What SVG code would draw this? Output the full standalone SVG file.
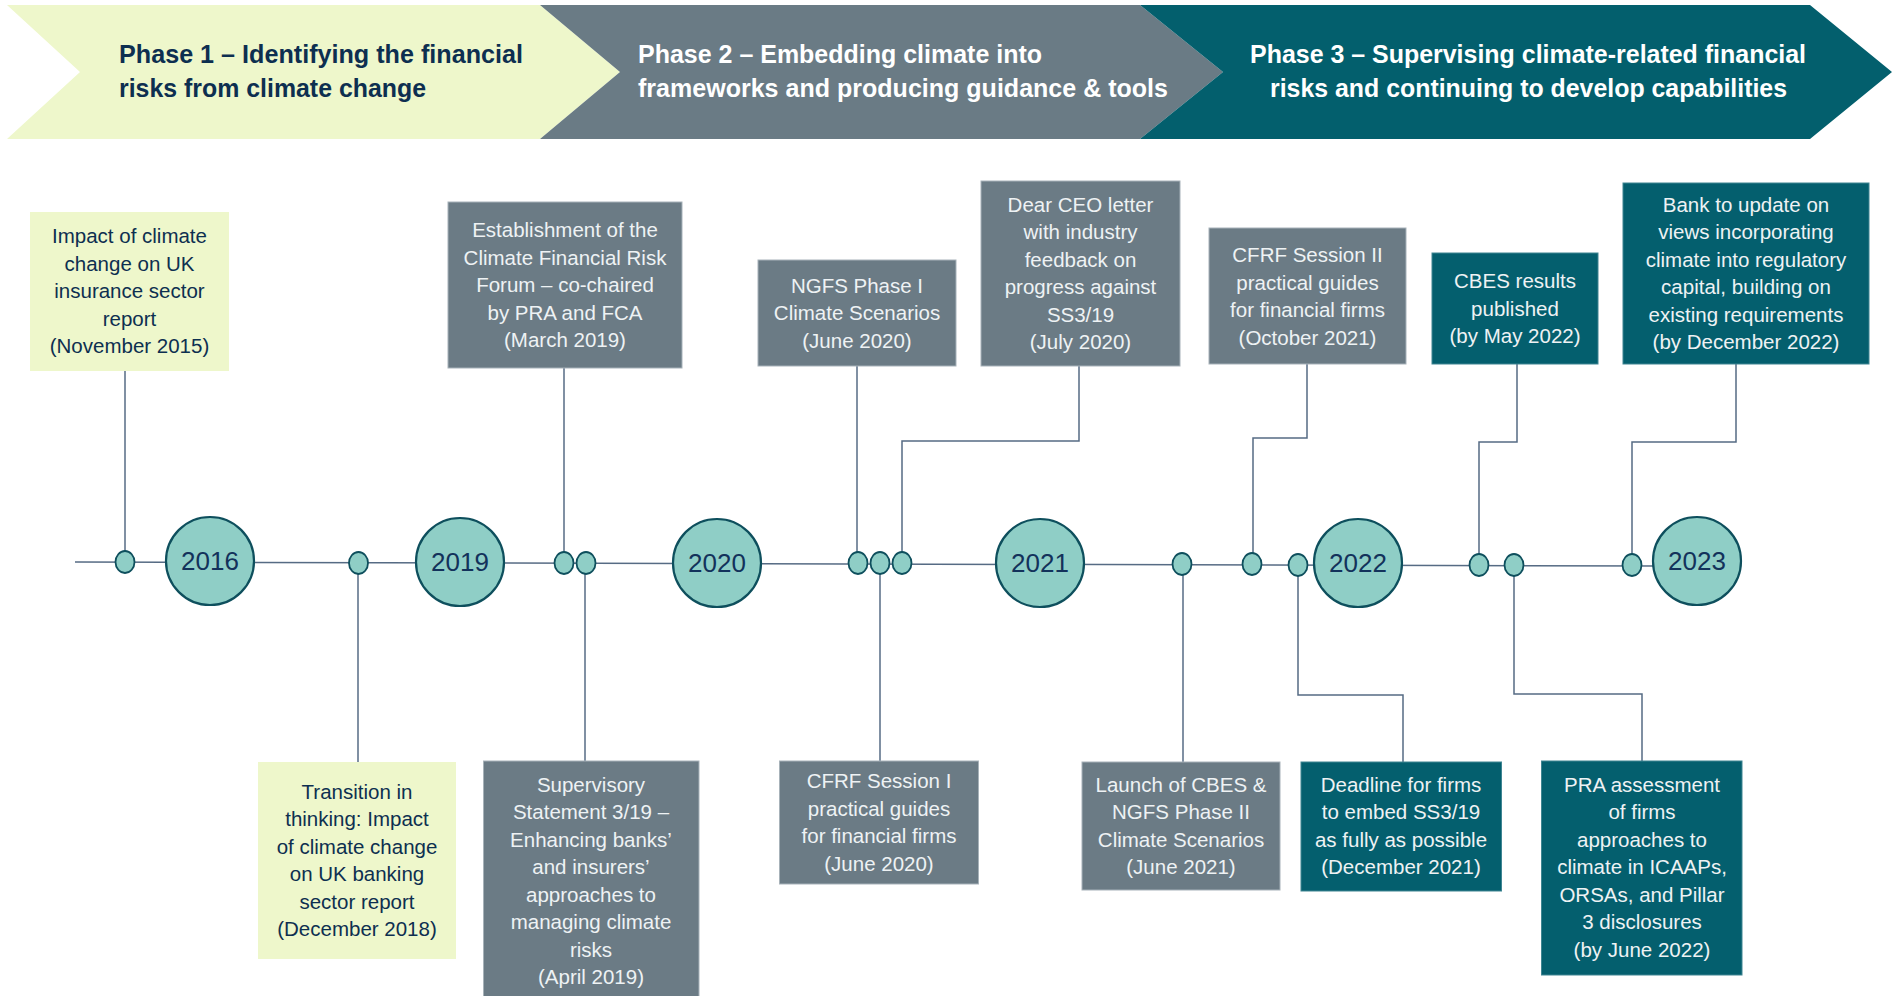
<svg xmlns="http://www.w3.org/2000/svg" width="1898" height="996" viewBox="0 0 1898 996">
<style>
.ph{font-family:'Liberation Sans',Arial,sans-serif;font-size:25px;font-weight:bold}
.t{font-family:'Liberation Sans',Arial,sans-serif;font-size:20.5px;text-anchor:middle}
.dk{fill:#0D2F50}
.lt{fill:#EEF2F4}
.green{fill:#EEF7CB}
.gray{fill:#6B7B85;stroke:#A7B2B9;stroke-width:1}
.teal{fill:#045F6E;stroke:#3F8592;stroke-width:1}
.yr{fill:#8FCEC6;stroke:#0E4F5D;stroke-width:2.2}
.yt{font-family:'Liberation Sans',Arial,sans-serif;font-size:26px;fill:#13325B;text-anchor:middle}
.dot{fill:#8FCEC6;stroke:#0E4F5D;stroke-width:1.8}
.cn{fill:none;stroke:#566B84;stroke-width:1.5}
</style>

<g id="banner">
  <g id="phase1">
    <polygon points="7,5 540,5 620,72 540,139 7,139 80,72" fill="#EEF7CB"/>
    <text class="ph" fill="#0D2F50" x="119" y="63" textLength="404" lengthAdjust="spacingAndGlyphs">Phase 1 – Identifying the financial</text>
    <text class="ph" fill="#0D2F50" x="119" y="97" textLength="307" lengthAdjust="spacingAndGlyphs">risks from climate change</text>
  </g>
  <g id="phase2">
    <polygon points="540,5 1140,5 1223,72 1140,139 540,139 620,72" fill="#6A7B85"/>
    <text class="ph" fill="#FFFFFF" x="638" y="63" textLength="404" lengthAdjust="spacingAndGlyphs">Phase 2 – Embedding climate into</text>
    <text class="ph" fill="#FFFFFF" x="638" y="97" textLength="530" lengthAdjust="spacingAndGlyphs">frameworks and producing guidance &amp; tools</text>
  </g>
  <g id="phase3">
    <polygon points="1140,5 1810,5 1892,72 1810,139 1140,139 1223,72" fill="#035F6D"/>
    <text class="ph" fill="#FFFFFF" x="1250" y="63" textLength="556" lengthAdjust="spacingAndGlyphs">Phase 3 – Supervising climate-related financial</text>
    <text class="ph" fill="#FFFFFF" x="1270" y="97" textLength="517" lengthAdjust="spacingAndGlyphs">risks and continuing to develop capabilities</text>
  </g>
</g>

<g id="connectors">
  <polyline class="cn" points="75,562 1660,566" stroke-width="2"/>
  <polyline class="cn" points="125,371 125,551"/>
  <polyline class="cn" points="564,368 564,552"/>
  <polyline class="cn" points="857,366 857,552"/>
  <polyline class="cn" points="1079,366 1079,441 902,441 902,552"/>
  <polyline class="cn" points="1307,364 1307,438 1253,438 1253,553"/>
  <polyline class="cn" points="1517,364 1517,442 1479,442 1479,554"/>
  <polyline class="cn" points="1736,364 1736,442 1632,442 1632,554"/>
  <polyline class="cn" points="358,574 358,762"/>
  <polyline class="cn" points="585,574 585,761"/>
  <polyline class="cn" points="880,574 880,761"/>
  <polyline class="cn" points="1183,575 1183,762"/>
  <polyline class="cn" points="1298,576 1298,695 1403,695 1403,762"/>
  <polyline class="cn" points="1514,576 1514,694 1642,694 1642,761"/>
</g>

<g id="dots">
  <ellipse class="dot" cx="125" cy="562" rx="9.5" ry="11"/>
  <ellipse class="dot" cx="358.5" cy="563" rx="9.5" ry="11"/>
  <ellipse class="dot" cx="564" cy="563" rx="9.5" ry="11"/>
  <ellipse class="dot" cx="586" cy="563" rx="9.5" ry="11"/>
  <ellipse class="dot" cx="858" cy="563" rx="9.5" ry="11"/>
  <ellipse class="dot" cx="880" cy="563" rx="9.5" ry="11"/>
  <ellipse class="dot" cx="902" cy="563" rx="9.5" ry="11"/>
  <ellipse class="dot" cx="1182" cy="564" rx="9.5" ry="11"/>
  <ellipse class="dot" cx="1252" cy="564" rx="9.5" ry="11"/>
  <ellipse class="dot" cx="1298" cy="565" rx="9.5" ry="11"/>
  <ellipse class="dot" cx="1479" cy="565" rx="9.5" ry="11"/>
  <ellipse class="dot" cx="1514" cy="565" rx="9.5" ry="11"/>
  <ellipse class="dot" cx="1632" cy="565" rx="9.5" ry="11"/>
</g>

<g id="y2016"><circle class="yr" cx="210" cy="561" r="44"/><text class="yt" x="210" y="570">2016</text></g>
<g id="y2019"><circle class="yr" cx="460" cy="562" r="44"/><text class="yt" x="460" y="571">2019</text></g>
<g id="y2020"><circle class="yr" cx="717" cy="563" r="44"/><text class="yt" x="717" y="572">2020</text></g>
<g id="y2021"><circle class="yr" cx="1040" cy="563" r="44"/><text class="yt" x="1040" y="572">2021</text></g>
<g id="y2022"><circle class="yr" cx="1358" cy="563" r="44"/><text class="yt" x="1358" y="572">2022</text></g>
<g id="y2023"><circle class="yr" cx="1697" cy="561" r="44"/><text class="yt" x="1697" y="570">2023</text></g>

<g id="n-insurance2015">
  <rect class="green" x="30" y="212" width="199" height="159"/>
  <text class="t dk" x="129.5"><tspan x="129.5" y="243">Impact of climate</tspan><tspan x="129.5" y="270.5">change on UK</tspan><tspan x="129.5" y="298">insurance sector</tspan><tspan x="129.5" y="325.5">report</tspan><tspan x="129.5" y="353">(November 2015)</tspan></text>
</g>
<g id="n-cfrf2019">
  <rect class="gray" x="448" y="202" width="234" height="166"/>
  <text class="t lt" x="565"><tspan x="565" y="237">Establishment of the</tspan><tspan x="565" y="264.5">Climate Financial Risk</tspan><tspan x="565" y="292">Forum – co-chaired</tspan><tspan x="565" y="319.5">by PRA and FCA</tspan><tspan x="565" y="347">(March 2019)</tspan></text>
</g>
<g id="n-ngfs2020">
  <rect class="gray" x="758" y="260" width="198" height="106"/>
  <text class="t lt" x="857"><tspan x="857" y="292.5">NGFS Phase I</tspan><tspan x="857" y="320">Climate Scenarios</tspan><tspan x="857" y="347.5">(June 2020)</tspan></text>
</g>
<g id="n-ceo2020">
  <rect class="gray" x="981" y="181" width="199" height="185"/>
  <text class="t lt" x="1080.5"><tspan x="1080.5" y="211.5">Dear CEO letter</tspan><tspan x="1080.5" y="239">with industry</tspan><tspan x="1080.5" y="266.5">feedback on</tspan><tspan x="1080.5" y="294">progress against</tspan><tspan x="1080.5" y="321.5">SS3/19</tspan><tspan x="1080.5" y="349">(July 2020)</tspan></text>
</g>
<g id="n-cfrf2021">
  <rect class="gray" x="1209" y="228" width="197" height="136"/>
  <text class="t lt" x="1307.5"><tspan x="1307.5" y="262">CFRF Session II</tspan><tspan x="1307.5" y="289.5">practical guides</tspan><tspan x="1307.5" y="317">for financial firms</tspan><tspan x="1307.5" y="344.5">(October 2021)</tspan></text>
</g>
<g id="n-cbes2022">
  <rect class="teal" x="1432" y="253" width="166" height="111"/>
  <text class="t lt" x="1515"><tspan x="1515" y="288">CBES results</tspan><tspan x="1515" y="315.5">published</tspan><tspan x="1515" y="343">(by May 2022)</tspan></text>
</g>
<g id="n-capital2022">
  <rect class="teal" x="1623" y="183" width="246" height="181"/>
  <text class="t lt" x="1746"><tspan x="1746" y="211.5">Bank to update on</tspan><tspan x="1746" y="239">views incorporating</tspan><tspan x="1746" y="266.5">climate into regulatory</tspan><tspan x="1746" y="294">capital, building on</tspan><tspan x="1746" y="321.5">existing requirements</tspan><tspan x="1746" y="349">(by December 2022)</tspan></text>
</g>

<g id="n-banking2018">
  <rect class="green" x="258" y="762" width="198" height="197"/>
  <text class="t dk" x="357"><tspan x="357" y="798.5">Transition in</tspan><tspan x="357" y="826">thinking: Impact</tspan><tspan x="357" y="853.5">of climate change</tspan><tspan x="357" y="881">on UK banking</tspan><tspan x="357" y="908.5">sector report</tspan><tspan x="357" y="936">(December 2018)</tspan></text>
</g>
<g id="n-ss319">
  <rect class="gray" x="483.5" y="761" width="215.5" height="240"/>
  <text class="t lt" x="591"><tspan x="591" y="791.5">Supervisory</tspan><tspan x="591" y="819">Statement 3/19 –</tspan><tspan x="591" y="846.5">Enhancing banks’</tspan><tspan x="591" y="874">and insurers’</tspan><tspan x="591" y="901.5">approaches to</tspan><tspan x="591" y="929">managing climate</tspan><tspan x="591" y="956.5">risks</tspan><tspan x="591" y="984">(April 2019)</tspan></text>
</g>
<g id="n-cfrf2020">
  <rect class="gray" x="779.5" y="761" width="199" height="123"/>
  <text class="t lt" x="879"><tspan x="879" y="788">CFRF Session I</tspan><tspan x="879" y="815.5">practical guides</tspan><tspan x="879" y="843">for financial firms</tspan><tspan x="879" y="870.5">(June 2020)</tspan></text>
</g>
<g id="n-cbes2021">
  <rect class="gray" x="1082" y="762" width="198" height="128"/>
  <text class="t lt" x="1181"><tspan x="1181" y="791.5">Launch of CBES &amp;</tspan><tspan x="1181" y="819">NGFS Phase II</tspan><tspan x="1181" y="846.5">Climate Scenarios</tspan><tspan x="1181" y="874">(June 2021)</tspan></text>
</g>
<g id="n-deadline2021">
  <rect class="teal" x="1301" y="762" width="200.5" height="129"/>
  <text class="t lt" x="1401"><tspan x="1401" y="791.5">Deadline for firms</tspan><tspan x="1401" y="819">to embed SS3/19</tspan><tspan x="1401" y="846.5">as fully as possible</tspan><tspan x="1401" y="874">(December 2021)</tspan></text>
</g>
<g id="n-pra2022">
  <rect class="teal" x="1541.5" y="761" width="200.5" height="214"/>
  <text class="t lt" x="1642"><tspan x="1642" y="791.5">PRA assessment</tspan><tspan x="1642" y="819">of firms</tspan><tspan x="1642" y="846.5">approaches to</tspan><tspan x="1642" y="874">climate in ICAAPs,</tspan><tspan x="1642" y="901.5">ORSAs, and Pillar</tspan><tspan x="1642" y="929">3 disclosures</tspan><tspan x="1642" y="956.5">(by June 2022)</tspan></text>
</g>
</svg>
